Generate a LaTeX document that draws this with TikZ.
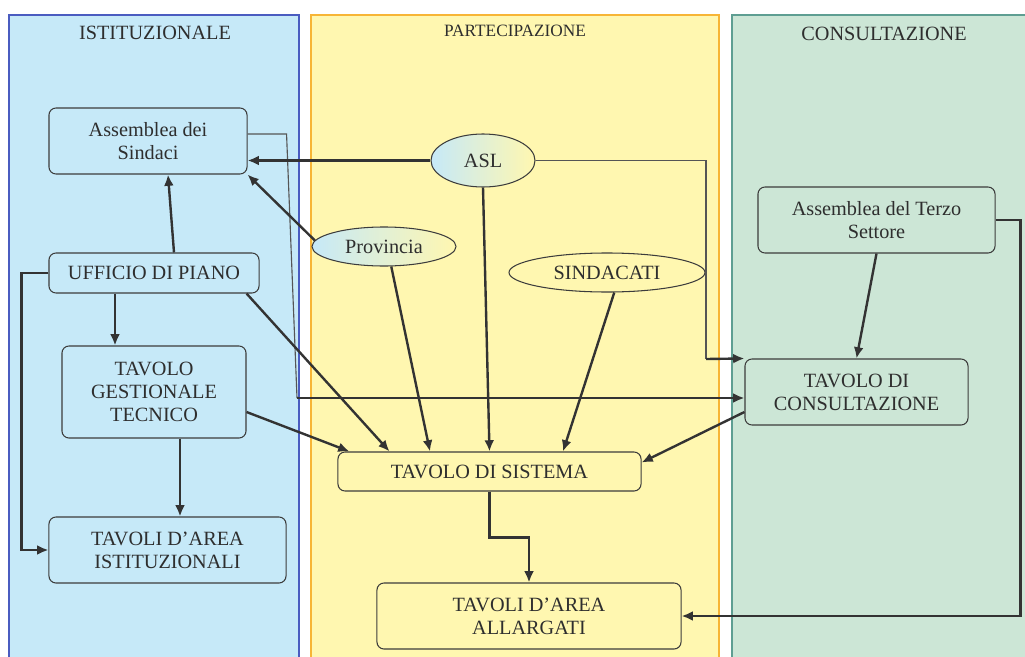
\documentclass[tikz,border=0pt]{standalone}
\usepackage{amsmath}
\usepackage{fontspec}
\setmainfont{Liberation Serif}
\usepackage{tikz}
\usetikzlibrary{shapes.geometric,arrows.meta,calc}
\definecolor{istfill}{HTML}{C6E9F8}
\definecolor{istline}{HTML}{4A5CC0}
\definecolor{parfill}{HTML}{FFF7B0}
\definecolor{parline}{HTML}{F7B536}
\definecolor{conffill}{HTML}{CCE6D6}
\definecolor{confline}{HTML}{5E9E92}
\definecolor{boxline}{HTML}{3C3C3C}
\definecolor{txt}{HTML}{2E2E2E}
\definecolor{arrline}{HTML}{333333}
\definecolor{thinc}{HTML}{555555}

\begin{document}
\begin{tikzpicture}[x=0.025cm, y=-0.025cm,
    box/.style={draw=boxline, line width=0.75pt, rounded corners=5pt, align=center,
      inner sep=0pt, text=txt, font=\fontsize{14.4}{16.5}\selectfont},
    oval/.style={ellipse, draw=boxline, line width=0.75pt, inner sep=0pt,
      text=txt, font=\fontsize{14.4}{16.5}\selectfont},
    title/.style={text=txt, inner sep=0pt, font=\fontsize{14.4}{16.5}\selectfont},
    conn/.style={draw=arrline, line width=1.7pt, -{Latex[length=8pt,width=7pt]}},
    thinline/.style={draw=thinc, line width=0.8pt}]
    \useasboundingbox (0,0) rectangle (1025,657);
\fill[istfill] (9,15) rectangle (299,657) ; % Panel.0
\draw[istline, line width=0.8pt] (9,657) -- (9,15) -- (299,15) -- (299,657) ; % Panel.0
\fill[parfill] (311,15) rectangle (719,657) ; % Panel.1
\draw[parline, line width=0.8pt] (311,657) -- (311,15) -- (719,15) -- (719,657) ; % Panel.1
\fill[conffill] (732,15) rectangle (1025,657) ; % Panel.2
\draw[confline, line width=0.8pt] (732,657) -- (732,15) -- (1025,15) ; % Panel.2
\node[title] (TitIst) at (155,33) {ISTITUZIONALE}; % Panel.0
\node[title, font=\fontsize{12.3}{14}\selectfont] (TitPar) at (515,31) {PARTECIPAZIONE}; % Panel.1
\node[title] (TitCons) at (884,34) {CONSULTAZIONE}; % Panel.2
\node[box, fill=istfill, minimum width=4.95cm, minimum height=1.65cm] (AssembleaSindaci) at (148,141) {Assemblea dei\\Sindaci}; % Ist.0
\node[box, fill=istfill, minimum width=5.25cm, minimum height=1cm] (UfficioPiano) at (154,273) {UFFICIO DI PIANO}; % Ist.1
\node[box, fill=istfill, minimum width=4.6cm, minimum height=2.3cm] (TavoloGestionale) at (154,392) {TAVOLO\\GESTIONALE\\TECNICO}; % Ist.2
\node[box, fill=istfill, minimum width=5.925cm, minimum height=1.65cm] (TavoliIstituzionali) at (167.5,550) {TAVOLI D’AREA\\ISTITUZIONALI}; % Ist.3
\node[oval, left color=istfill, right color=parfill, minimum width=2.6cm, minimum height=1.325cm] (ASL) at (483,160.5) {ASL}; % Par.0
\node[oval, left color=istfill, right color=parfill, minimum width=3.6cm, minimum height=0.975cm] (Provincia) at (384,246.5) {Provincia}; % Par.1
\node[oval, fill=parfill, minimum width=4.9cm, minimum height=0.975cm] (Sindacati) at (607,272.5) {SINDACATI}; % Par.2
\node[box, fill=parfill, minimum width=7.575cm, minimum height=0.975cm] (TavoloSistema) at (489.5,471.5) {TAVOLO DI SISTEMA}; % Par.3
\node[box, fill=parfill, minimum width=7.6cm, minimum height=1.65cm] (TavoliAllargati) at (529,616) {TAVOLI D’AREA\\ALLARGATI}; % Par.4
\node[box, fill=conffill, minimum width=5.925cm, minimum height=1.65cm] (TerzoSettore) at (876.5,220) {Assemblea del Terzo\\Settore}; % Cons.0
\node[box, fill=conffill, minimum width=5.575cm, minimum height=1.65cm] (TavoloConsultazione) at (856.5,392) {TAVOLO DI\\CONSULTAZIONE}; % Cons.1
\coordinate (bendS) at (297,398) ; % bendS
\coordinate (bendA) at (706,359) ; % bendA
\draw[thinline] ($(AssembleaSindaci.east)+(0,-7)$) -- ++(39,0) -- (bendS) ; % Sindaci.Cons
\draw[conn] (bendS) -- (bendS -| TavoloConsultazione.west) ; % Sindaci.Cons
\draw[thinline] (ASL.east) -| (bendA) ; % ASL.Cons
\draw[conn] (bendA) -- (TavoloConsultazione.north west) ; % ASL.Cons
\draw[conn] (ASL.west) -- (ASL.west -| AssembleaSindaci.east) ; % ASL.Sindaci
\draw[conn] (Provincia.175) -- (AssembleaSindaci.south east) ; % Provincia.Sindaci
\draw[conn] ($(UfficioPiano.north)+(20,0)$) -- ($(AssembleaSindaci.south)+(20,0)$) ; % Ufficio.Sindaci
\draw[conn] (UfficioPiano.west) -- ++(-27,0) |- (TavoliIstituzionali.west) ; % Ufficio.TavoliIst
\draw[conn] ($(UfficioPiano.south)+(-39,0)$) -- ($(TavoloGestionale.north)+(-39,0)$) ; % Ufficio.Gestionale
\draw[conn] ($(UfficioPiano.south east)+(-13,0)$) -- ($(TavoloSistema.north)+(-100,0)$) ; % Ufficio.Sistema
\draw[conn] ($(TavoloGestionale.east)+(0,20)$) -- ($(TavoloSistema.north west)+(12,0)$) ; % Gestionale.Sistema
\draw[conn] ($(TavoloGestionale.south)+(26,0)$) coordinate (gs) -- (gs |- TavoliIstituzionali.north) ; % Gestionale.TavoliIst
\draw[conn] (Provincia.-70) -- ($(TavoloSistema.north)+(-59.5,0)$) ; % Provincia.Sistema
\draw[conn] (ASL.south) -- (TavoloSistema.north) ; % ASL.Sistema
\draw[conn] (Sindacati.-70) -- ($(TavoloSistema.north)+(73.5,0)$) ; % Sindacati.Sistema
\draw[conn] ($(TavoloConsultazione.west)+(0,20)$) -- ($(TavoloSistema.east)+(0,-9)$) ; % Cons.Sistema
\draw[conn] (TavoloSistema.south) -- ++(0,46) -| (TavoliAllargati.north) ; % Sistema.Allargati
\draw[conn] (TerzoSettore.south) -- (TavoloConsultazione.north) ; % Terzo.Cons
\draw[conn] (TerzoSettore.east) -- ++(25,0) |- (TavoliAllargati.east) ; % Terzo.Allargati
    \end{tikzpicture}
\end{document}
